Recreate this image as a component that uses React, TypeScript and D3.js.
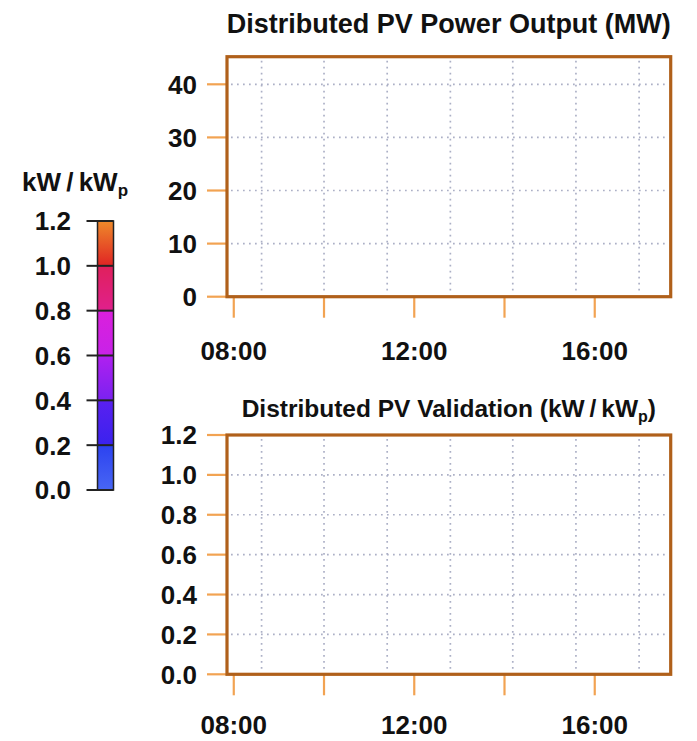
import React from "react";
import * as d3 from "d3";

// Time axis (minutes after midnight)
const timeDomain = [471, 1061];
const hourTicks = [480, 600, 720, 840, 960];
const hourTickLabels = ["08:00", "", "12:00", "", "16:00"];
const gridTimes = [517, 600, 684, 768, 851, 935, 1019];

// Power panel (MW)
const powerDomain = [0, 45.2];
const powerTicks = [0, 10, 20, 30, 40];
const powerGrid = [10, 20, 30, 40];

// Validation panel (kW/kWp)
const validDomain = [0, 1.2];
const validTicks = [0, 0.2, 0.4, 0.6, 0.8, 1.0, 1.2];
const validGrid = [0.2, 0.4, 0.6, 0.8, 1.0];

// Colour key bands: breaks, colour at the bottom and at the top of each band
const keyBreaks = [0, 0.2, 0.4, 0.6, 0.8, 1.0, 1.2];
const keyBottomColors = ["#4866f4", "#3a22ee", "#7a22f0", "#c822e8", "#e0208c", "#e02424"];
const keyTopColors = ["#2c42f0", "#5a20f0", "#b020f0", "#da20dc", "#e0205c", "#ee8a2a"];

const FONT = "'Liberation Sans', Arial, Helvetica, sans-serif";
const FRAME = "#b0601a";
const TICK = "#f2a352";
const GRID = "#acb0c6";

const W = 697;
const H = 741;

type PanelProps = {
  top: number;
  bottom: number;
  domain: number[];
  ticks: number[];
  grid: number[];
  fmt: (v: number) => string;
  labelBaseline: number;
};

const plotLeft = 227;
const plotRight = 670.7;

function Panel({ top, bottom, domain, ticks, grid, fmt, labelBaseline }: PanelProps) {
  const x = d3.scaleLinear().domain(timeDomain).range([plotLeft, plotRight]);
  const y = d3.scaleLinear().domain(domain).range([bottom, top]);
  return (
    <g>
      {gridTimes.map((t) => (
        <line
          key={"gv" + t}
          x1={x(t)}
          x2={x(t)}
          y1={top + 4}
          y2={bottom - 3}
          stroke={GRID}
          strokeWidth={1.7}
          strokeDasharray="1.7 4.3"
        />
      ))}
      {grid.map((v) => (
        <line
          key={"gh" + v}
          x1={plotLeft + 4}
          x2={plotRight - 3}
          y1={y(v)}
          y2={y(v)}
          stroke={GRID}
          strokeWidth={1.7}
          strokeDasharray="1.7 4.3"
        />
      ))}
      {ticks.map((v) => (
        <g key={"yt" + v}>
          <line x1={plotLeft - 20} x2={plotLeft} y1={y(v)} y2={y(v)} stroke={TICK} strokeWidth={2.2} />
          <text
            x={plotLeft - 30}
            y={y(v)}
            dy="0.36em"
            textAnchor="end"
            fontFamily={FONT}
            fontWeight="bold"
            fontSize={26}
            fill="#111"
          >
            {fmt(v)}
          </text>
        </g>
      ))}
      {hourTicks.map((t, i) => (
        <g key={"xt" + t}>
          <line x1={x(t)} x2={x(t)} y1={bottom} y2={bottom + 21} stroke={TICK} strokeWidth={2.2} />
          {hourTickLabels[i] && (
            <text
              x={x(t)}
              y={labelBaseline}
              textAnchor="middle"
              fontFamily={FONT}
              fontWeight="bold"
              fontSize={26}
              fill="#111"
            >
              {hourTickLabels[i]}
            </text>
          )}
        </g>
      ))}
      <rect
        x={plotLeft}
        y={top}
        width={plotRight - plotLeft}
        height={bottom - top}
        fill="none"
        stroke={FRAME}
        strokeWidth={3.2}
      />
    </g>
  );
}

function ColourKey() {
  const y = d3.scaleLinear().domain([0, 1.2]).range([490, 221]);
  const barX = 97.5;
  const barW = 16;
  const bands = d3.pairs(keyBreaks);
  return (
    <g>
      <defs>
        {bands.map((b, i) => (
          <linearGradient key={"lg" + i} id={"band" + i} x1="0" y1="1" x2="0" y2="0">
            <stop offset="0%" stopColor={keyBottomColors[i]} />
            <stop offset="100%" stopColor={keyTopColors[i]} />
          </linearGradient>
        ))}
      </defs>
      {bands.map(([a, b], i) => (
        <rect
          key={"kb" + i}
          x={barX}
          y={y(b)}
          width={barW}
          height={y(a) - y(b)}
          fill={`url(#band${i})`}
        />
      ))}
      <rect
        x={barX}
        y={y(1.2)}
        width={barW}
        height={y(0) - y(1.2)}
        fill="none"
        stroke="#222"
        strokeWidth={1.5}
      />
      {keyBreaks.map((v) => (
        <g key={"kt" + v}>
          <line x1={86.5} x2={barX + barW} y1={y(v)} y2={y(v)} stroke="#222" strokeWidth={2} />
          <text
            x={71}
            y={y(v)}
            dy="0.36em"
            textAnchor="end"
            fontFamily={FONT}
            fontWeight="bold"
            fontSize={26}
            fill="#111"
          >
            {v.toFixed(1)}
          </text>
        </g>
      ))}
      <text x={22} y={191} fontFamily={FONT} fontWeight="bold" fontSize={26} fill="#111">
        kW{"\u2009/\u2009"}kW
        <tspan fontSize={17} dy={5}>
          p
        </tspan>
      </text>
    </g>
  );
}

export default function App() {
  const centre = (plotLeft + plotRight) / 2;
  return (
    <svg
      width={W}
      height={H}
      viewBox={`0 0 ${W} ${H}`}
      style={{ position: "absolute", left: 0, top: 0, background: "#fff" }}
    >
      <rect x={0} y={0} width={W} height={H} fill="#fff" />
      <text
        x={centre}
        y={33}
        textAnchor="middle"
        fontFamily={FONT}
        fontWeight="bold"
        fontSize={27}
        fill="#111"
      >
        Distributed PV Power Output (MW)
      </text>
      <Panel
        top={56.7}
        bottom={296.7}
        domain={powerDomain}
        ticks={powerTicks}
        grid={powerGrid}
        fmt={(v) => String(v)}
        labelBaseline={360}
      />
      <text
        x={centre}
        y={417}
        textAnchor="middle"
        fontFamily={FONT}
        fontWeight="bold"
        fontSize={24.5}
        fill="#111"
      >
        Distributed PV Validation (kW{"\u2009/\u2009"}kW
        <tspan fontSize={16} dy={5}>
          p
        </tspan>
        <tspan dy={-5}>)</tspan>
      </text>
      <Panel
        top={435}
        bottom={674.3}
        domain={validDomain}
        ticks={validTicks}
        grid={validGrid}
        fmt={(v) => v.toFixed(1)}
        labelBaseline={734}
      />
      <ColourKey />
    </svg>
  );
}
